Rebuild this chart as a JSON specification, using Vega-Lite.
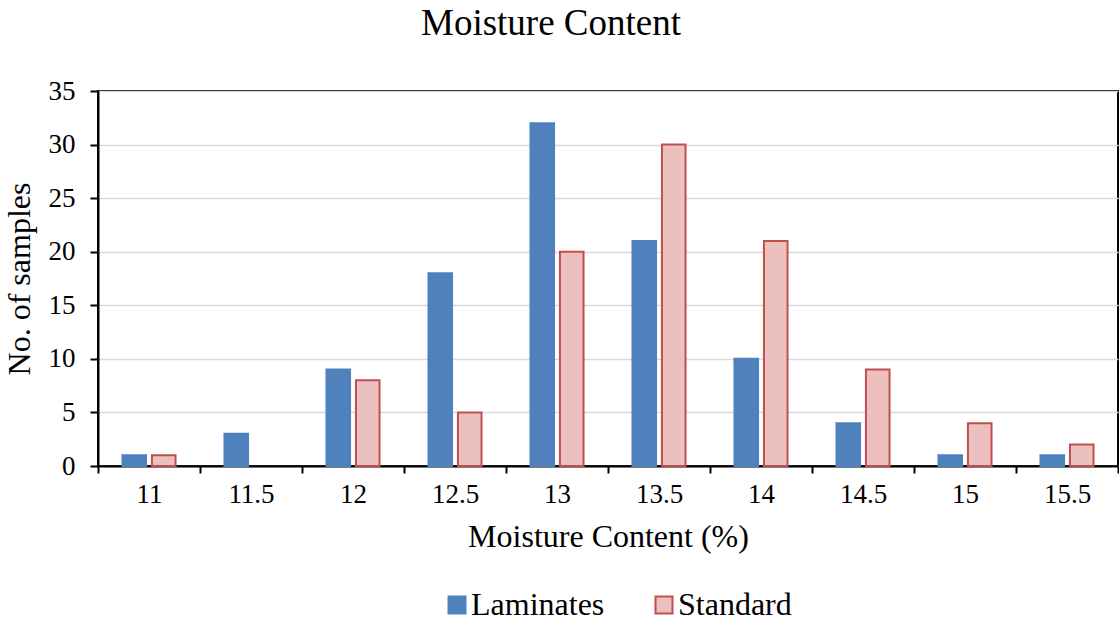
{
  "$schema": "https://vega.github.io/schema/vega-lite/v6.json",
  "width": 1020,
  "height": 375,
  "autosize": "none",
  "padding": {"left": 98, "top": 91, "right": 1, "bottom": 160},
  "config": {
    "font": "Liberation Serif",
    "view": {"stroke": "black", "strokeWidth": 2}
  },
  "title": {
    "text": "Moisture Content",
    "fontSize": 37,
    "fontWeight": "normal",
    "color": "black",
    "anchor": "middle",
    "frame": "group",
    "dx": -57,
    "offset": 34
  },
  "data": {
    "values": [
      {"mc": "11", "series": "Laminates", "n": 1},
      {"mc": "11", "series": "Standard", "n": 1},
      {"mc": "11.5", "series": "Laminates", "n": 3},
      {"mc": "12", "series": "Laminates", "n": 9},
      {"mc": "12", "series": "Standard", "n": 8},
      {"mc": "12.5", "series": "Laminates", "n": 18},
      {"mc": "12.5", "series": "Standard", "n": 5},
      {"mc": "13", "series": "Laminates", "n": 32},
      {"mc": "13", "series": "Standard", "n": 20},
      {"mc": "13.5", "series": "Laminates", "n": 21},
      {"mc": "13.5", "series": "Standard", "n": 30},
      {"mc": "14", "series": "Laminates", "n": 10},
      {"mc": "14", "series": "Standard", "n": 21},
      {"mc": "14.5", "series": "Laminates", "n": 4},
      {"mc": "14.5", "series": "Standard", "n": 9},
      {"mc": "15", "series": "Laminates", "n": 1},
      {"mc": "15", "series": "Standard", "n": 4},
      {"mc": "15.5", "series": "Laminates", "n": 1},
      {"mc": "15.5", "series": "Standard", "n": 2}
    ]
  },
  "mark": {"type": "bar", "strokeWidth": 2},
  "encoding": {
    "x": {
      "field": "mc",
      "type": "nominal",
      "sort": ["11", "11.5", "12", "12.5", "13", "13.5", "14", "14.5", "15", "15.5"],
      "scale": {"paddingInner": 0, "paddingOuter": 0},
      "axis": {
        "title": "Moisture Content (%)",
        "labelAngle": 0,
        "tickBand": "extent",
        "domainColor": "black",
        "domainWidth": 2,
        "tickColor": "black",
        "tickWidth": 2,
        "tickSize": 7,
        "labelFontSize": 27,
        "labelColor": "black",
        "labelPadding": 8,
        "titleFontSize": 32,
        "titleFontWeight": "normal",
        "titleColor": "black",
        "titlePadding": 14,
        "grid": false
      }
    },
    "xOffset": {
      "field": "series",
      "type": "nominal",
      "scale": {"paddingInner": 0.2, "paddingOuter": 0.83}
    },
    "y": {
      "field": "n",
      "type": "quantitative",
      "scale": {"domain": [0, 35], "nice": false},
      "axis": {
        "title": "No. of samples",
        "values": [0, 5, 10, 15, 20, 25, 30, 35],
        "grid": true,
        "gridColor": "#D9D9D9",
        "gridWidth": 1.5,
        "domainColor": "black",
        "domainWidth": 2,
        "tickColor": "black",
        "tickWidth": 2,
        "tickSize": 8,
        "labelFontSize": 27,
        "labelColor": "black",
        "labelPadding": 15,
        "titleFontSize": 32,
        "titleFontWeight": "normal",
        "titleColor": "black",
        "titlePadding": 12
      }
    },
    "fill": {
      "field": "series",
      "type": "nominal",
      "scale": {"domain": ["Laminates", "Standard"], "range": ["#4F81BD", "#EBC0BF"]},
      "legend": {
        "title": null,
        "orient": "none",
        "legendX": 343,
        "legendY": 498,
        "direction": "horizontal",
        "symbolType": "square",
        "symbolSize": 289,
        "symbolStrokeWidth": 2,
        "labelFontSize": 32,
        "labelColor": "black",
        "labelOffset": -2,
        "columnPadding": 43
      }
    },
    "stroke": {
      "field": "series",
      "type": "nominal",
      "scale": {"domain": ["Laminates", "Standard"], "range": ["#4F81BD", "#C0504D"]}
    }
  }
}
